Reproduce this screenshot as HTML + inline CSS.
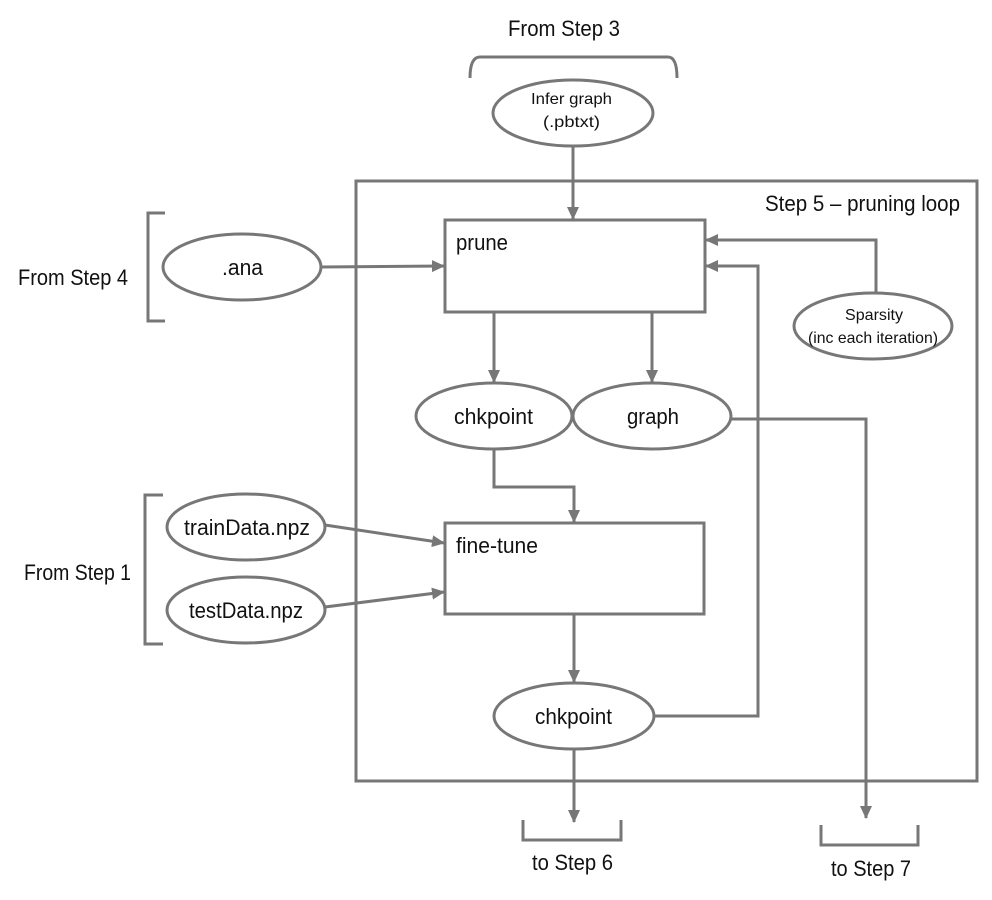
<!DOCTYPE html>
<html><head><meta charset="utf-8"><style>
html,body{margin:0;padding:0;background:#fff;}
svg{display:block;}
text{font-family:"Liberation Sans",sans-serif;fill:#111;}
</style></head><body>
<svg width="992" height="900" viewBox="0 0 992 900" xmlns="http://www.w3.org/2000/svg">
<defs>
<marker id="ah" markerWidth="13" markerHeight="12" refX="12" refY="6" orient="auto" markerUnits="userSpaceOnUse">
<path d="M0,0 L13,6 L0,12 z" fill="#777"/>
</marker>
</defs>
<g fill="none" stroke="#777" stroke-width="3">
<rect x="356" y="181" width="621" height="600"/>
<path d="M470,78 Q470,57 480,57 L668,57 Q677,57 677,78"/>
<path d="M165,213 L148,213 L148,321 L165,321"/>
<path d="M163,495 L145,495 L145,644 L163,644"/>
<path d="M523,820 L523,840 L621,840 L621,820"/>
<path d="M821,825 L821,845 L918,845 L918,825"/>
<rect x="445" y="220" width="260" height="92"/>
<rect x="445" y="523" width="259" height="91"/>
<ellipse cx="573" cy="113" rx="80" ry="33"/>
<ellipse cx="242" cy="267" rx="79" ry="33"/>
<ellipse cx="873" cy="326" rx="79" ry="33"/>
<ellipse cx="494" cy="416" rx="78" ry="33"/>
<ellipse cx="652" cy="416" rx="79" ry="33"/>
<ellipse cx="246" cy="527" rx="79" ry="33"/>
<ellipse cx="246" cy="610" rx="79" ry="33"/>
<ellipse cx="574" cy="716" rx="80" ry="33"/>
<path marker-end="url(#ah)" d="M573,146 L573,219"/>
<path marker-end="url(#ah)" d="M321,267 L444,266"/>
<path marker-end="url(#ah)" d="M876,293 L876,240 L706,240"/>
<path marker-end="url(#ah)" d="M654,716 L758,716 L758,266 L706,266"/>
<path marker-end="url(#ah)" d="M494,312 L494,382"/>
<path marker-end="url(#ah)" d="M652,312 L652,382"/>
<path marker-end="url(#ah)" d="M731,419 L866,419 L866,818"/>
<path marker-end="url(#ah)" d="M494,449 L494,487 L574,487 L574,522"/>
<path marker-end="url(#ah)" d="M325,525 L444,543"/>
<path marker-end="url(#ah)" d="M325,607 L444,592"/>
<path marker-end="url(#ah)" d="M574,614 L574,682"/>
<path marker-end="url(#ah)" d="M574,749 L574,822"/>
</g>
<g font-size="22">
<text x="508" y="36" textLength="112" lengthAdjust="spacingAndGlyphs">From Step 3</text>
<text x="765" y="211" textLength="195" lengthAdjust="spacingAndGlyphs">Step 5 – pruning loop</text>
<text x="18" y="285" textLength="110" lengthAdjust="spacingAndGlyphs">From Step 4</text>
<text x="24" y="580" textLength="107" lengthAdjust="spacingAndGlyphs">From Step 1</text>
<text x="222" y="275" textLength="41" lengthAdjust="spacingAndGlyphs">.ana</text>
<text x="456" y="250" textLength="52" lengthAdjust="spacingAndGlyphs">prune</text>
<text x="454" y="424" textLength="79" lengthAdjust="spacingAndGlyphs">chkpoint</text>
<text x="627" y="424" textLength="52" lengthAdjust="spacingAndGlyphs">graph</text>
<text x="184" y="535" textLength="126" lengthAdjust="spacingAndGlyphs">trainData.npz</text>
<text x="456" y="553" textLength="82" lengthAdjust="spacingAndGlyphs">fine-tune</text>
<text x="189" y="618" textLength="114" lengthAdjust="spacingAndGlyphs">testData.npz</text>
<text x="535" y="724" textLength="77" lengthAdjust="spacingAndGlyphs">chkpoint</text>
<text x="532" y="870" textLength="81" lengthAdjust="spacingAndGlyphs">to Step 6</text>
<text x="831" y="876" textLength="80" lengthAdjust="spacingAndGlyphs">to Step 7</text>
</g>
<g font-size="16">
<text x="531" y="104" textLength="81" lengthAdjust="spacingAndGlyphs">Infer graph</text>
<text x="543" y="127" textLength="57" lengthAdjust="spacingAndGlyphs">(.pbtxt)</text>
<text x="845" y="320" textLength="58" lengthAdjust="spacingAndGlyphs">Sparsity</text>
<text x="808" y="343" textLength="130" lengthAdjust="spacingAndGlyphs">(inc each iteration)</text>
</g>
</svg>
</body></html>
